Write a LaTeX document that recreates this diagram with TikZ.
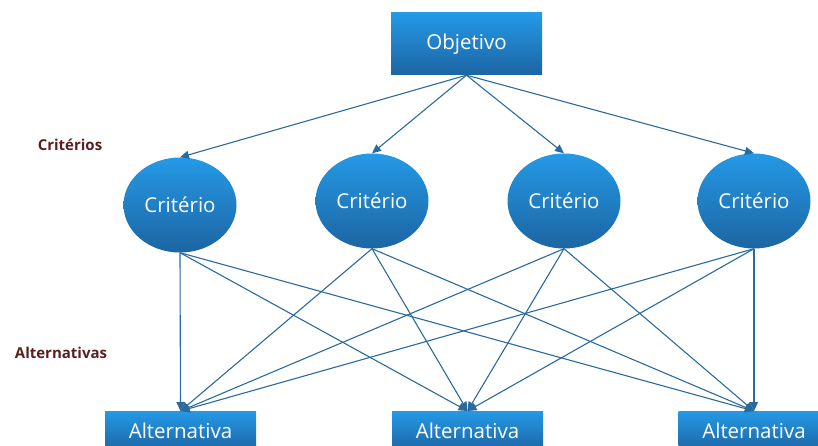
\documentclass[tikz,border=0pt]{standalone}
\usepackage{fontspec}
\setmainfont{Open Sans}
\usetikzlibrary{shapes.geometric,arrows.meta}
\definecolor{boxtop}{HTML}{2599E6}
\definecolor{boxbot}{HTML}{1C65A3}
\definecolor{linkcol}{HTML}{2A6A9C}
\definecolor{labelcol}{HTML}{5B1F1F}
\tikzset{
  x=1pt, y=-1pt,
  boxnode/.style={rectangle, minimum width=151pt, inner sep=0pt,
    top color=boxtop, bottom color=boxbot, draw=none,
    text=white, font=\fontsize{20.5}{24}\selectfont},
  critnode/.style={ellipse, minimum width=113pt, minimum height=95pt, inner sep=0pt,
    top color=boxtop, bottom color=boxbot, draw=none,
    text=white, font=\fontsize{20.5}{24}\selectfont},
  levellabel/.style={text=labelcol, font=\bfseries\fontsize{15}{18}\selectfont, inner sep=0pt},
  link/.style={draw=linkcol, line width=1.1pt,
    -{Triangle[length=9pt,width=8pt]}},
}
\begin{document}
\begin{tikzpicture}
\useasboundingbox (0,0) rectangle (818,446);
\begin{scope}
\clip (0,0) rectangle (818,446);
% goal
\node[boxnode, minimum height=62pt] (obj) at (466.5,44) {Objetivo};
% criteria
\node[critnode] (c1) at (180,205) {Critério};
\node[critnode] (c2) at (372,201) {Critério};
\node[critnode] (c3) at (564,201) {Critério};
\node[critnode] (c4) at (754,201) {Critério};
% alternatives
\node[boxnode, minimum height=40pt, anchor=north] (a1) at (180.5,411) {\raisebox{-3pt}{Alternativa}};
\node[boxnode, minimum height=40pt, anchor=north] (a2) at (467.5,411) {\raisebox{-3pt}{Alternativa}};
\node[boxnode, minimum height=40pt, anchor=north] (a3) at (754,411) {\raisebox{-3pt}{Alternativa}};
% level labels
\node[levellabel] (lc) at (70,145) {Critérios};
\node[levellabel] (la) at (61,353) {Alternativas};
% goal to criteria
\foreach \c in {c1,c2,c3,c4}
  \draw[link] (obj.south) -- (\c.north);
% criteria to alternatives
\foreach \c in {c1,c2,c3,c4}
  \foreach \a in {a1,a2,a3}
    \draw[link] (\c.south) -- (\a.north);
\end{scope}
\end{tikzpicture}
\end{document}
